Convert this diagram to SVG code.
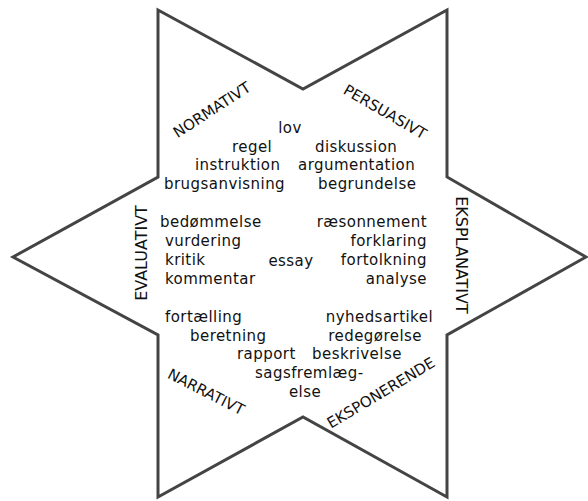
<svg xmlns="http://www.w3.org/2000/svg" width="588" height="501" viewBox="0 0 588 501">
<style>
.t{font-family:"DejaVu Sans",sans-serif;font-size:15px;letter-spacing:0.45px;fill:#111}
.l{font-family:"DejaVu Sans",sans-serif;font-size:15px;fill:#111}
.v{font-family:"DejaVu Sans",sans-serif;font-size:16px;fill:#111}
.e{text-anchor:end}
.m{text-anchor:middle}
</style>
<rect width="588" height="501" fill="#fff"/>
<g id="star">
<polygon points="158,10 303,89 447,10 447,177 586,257 447,335 447,497 303,417 158,497 158,335 13,257 158,177" fill="#fff" stroke="#444" stroke-width="3" stroke-linejoin="miter"/>
</g>
<g id="labels">
<text class="l m" transform="translate(212,110) rotate(-33)" y="5">NORMATIVT</text>
<text class="l m" transform="translate(385,112) rotate(30)" y="5">PERSUASIVT</text>
<text class="v m" transform="translate(456,255) rotate(90)" y="0">EKSPLANATIVT</text>
<text class="v m" transform="translate(147,253) rotate(-90)" y="0">EVALUATIVT</text>
<text class="l m" transform="translate(206,392) rotate(27)" y="5">NARRATIVT</text>
<text class="l m" transform="translate(381,393) rotate(-31)" y="5">EKSPONERENDE</text>
</g>
<g id="words">
<text class="t m" x="290" y="133">lov</text>
<text class="t" x="232" y="152">regel</text>
<text class="t" x="315" y="152">diskussion</text>
<text class="t" x="195" y="170">instruktion</text>
<text class="t" x="298" y="170">argumentation</text>
<text class="t" x="164" y="189">brugsanvisning</text>
<text class="t" x="318" y="189">begrundelse</text>
<text class="t" x="160" y="227">bedømmelse</text>
<text class="t e" x="427" y="227">ræsonnement</text>
<text class="t" x="165" y="246">vurdering</text>
<text class="t e" x="427" y="246">forklaring</text>
<text class="t" x="165" y="265">kritik</text>
<text class="t m" x="291" y="266">essay</text>
<text class="t e" x="427" y="265">fortolkning</text>
<text class="t" x="165" y="284">kommentar</text>
<text class="t e" x="427" y="284">analyse</text>
<text class="t" x="165" y="322">fortælling</text>
<text class="t e" x="433" y="322">nyhedsartikel</text>
<text class="t" x="190" y="341">beretning</text>
<text class="t e" x="422" y="341">redegørelse</text>
<text class="t" x="237" y="359">rapport</text>
<text class="t" x="312" y="359">beskrivelse</text>
<text class="t" x="255" y="378">sagsfremlæg-</text>
<text class="t m" x="305" y="397">else</text>
</g>
</svg>
